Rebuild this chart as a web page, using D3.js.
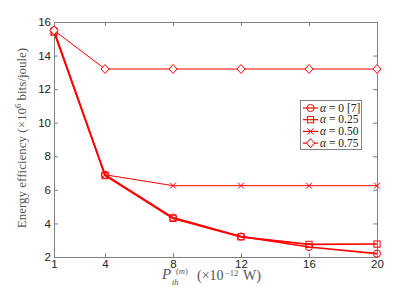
<!DOCTYPE html>
<html><head><meta charset="utf-8">
<script src="https://cdn.jsdelivr.net/npm/d3@7"></script>
<style>body{margin:0;background:#fff}svg{display:block}</style>
</head><body><svg id="c" width="415" height="290"></svg>
<script>
const xValues = [1, 4, 8, 12, 16, 20];
const alpha0 = [15.5, 6.9, 4.35, 3.22, 2.6, 2.2];
const alpha025 = [15.4, 6.85, 4.3, 3.2, 2.75, 2.77];
const alpha050 = [15.4, 6.9, 6.25, 6.25, 6.25, 6.25];
const alpha075 = [15.5, 13.2, 13.2, 13.2, 13.2, 13.2];
const xTicks = [1, 4, 8, 12, 16, 20];
const yTicks = [2, 4, 6, 8, 10, 12, 14, 16];
const seriesNames = ["α = 0 [7]", "α = 0.25", "α = 0.50", "α = 0.75"];

const series = [
  {name: seriesNames[0], vals: alpha0, marker: "circle", w: 1.6},
  {name: seriesNames[1], vals: alpha025, marker: "square", w: 1.6},
  {name: seriesNames[2], vals: alpha050, marker: "x", w: 1},
  {name: seriesNames[3], vals: alpha075, marker: "diamond", w: 1}
];

const svg = d3.select("#c");
const L = 54, R = 377, T = 22, B = 257;
const x = d3.scaleLinear().domain([1, 20]).range([L, R]);
const y = d3.scaleLinear().domain([2, 16]).range([B, T]);
const red = "#ff0000";
const axisCol = "#808080";
const serif = "Liberation Serif, serif";

const ax = svg.append("g").attr("transform", `translate(0,${B})`)
  .call(d3.axisBottom(x).tickValues(xTicks).tickSize(-4).tickPadding(3));
const axT = svg.append("g").attr("transform", `translate(0,${T})`)
  .call(d3.axisTop(x).tickValues(xTicks).tickSize(-4).tickFormat(""));
const ay = svg.append("g").attr("transform", `translate(${L},0)`)
  .call(d3.axisLeft(y).tickValues(yTicks).tickSize(-4).tickPadding(3));
const ayR = svg.append("g").attr("transform", `translate(${R},0)`)
  .call(d3.axisRight(y).tickValues(yTicks).tickSize(-4).tickFormat(""));
[ax, axT, ay, ayR].forEach(g => {
  g.select(".domain").attr("stroke", axisCol);
  g.selectAll(".tick line").attr("stroke", axisCol);
  g.selectAll("text").attr("fill", "#222").style("font-family", "Liberation Sans, Arial, sans-serif").style("font-size", "11.5px");
});

function marker(g, type, cx, cy) {
  const s = 3.6;
  if (type === "circle") g.append("circle").attr("cx", cx).attr("cy", cy).attr("r", s).attr("fill", "none").attr("stroke", red).attr("stroke-width", 1);
  else if (type === "square") g.append("rect").attr("x", cx - s + 0.5).attr("y", cy - s + 0.5).attr("width", 2 * s - 1).attr("height", 2 * s - 1).attr("fill", "none").attr("stroke", red).attr("stroke-width", 1);
  else if (type === "x") g.append("path").attr("d", `M${cx-3},${cy-3}L${cx+3},${cy+3}M${cx-3},${cy+3}L${cx+3},${cy-3}`).attr("stroke", red).attr("stroke-width", 1);
  else if (type === "diamond") g.append("path").attr("d", `M${cx},${cy-4.5}L${cx+4},${cy}L${cx},${cy+4.5}L${cx-4},${cy}Z`).attr("fill", "#fff").attr("stroke", red).attr("stroke-width", 1);
}

const line = d3.line().x((d, i) => x(xValues[i])).y(d => y(d));
series.forEach(s => {
  svg.append("path").attr("d", line(s.vals)).attr("fill", "none").attr("stroke", red).attr("stroke-width", s.w);
});
series.forEach(s => {
  const g = svg.append("g");
  s.vals.forEach((v, i) => marker(g, s.marker, x(xValues[i]), y(v)));
});

// legend
const lg = svg.append("g");
lg.append("rect").attr("x", 300.5).attr("y", 100.5).attr("width", 61).attr("height", 49).attr("fill", "#fff").attr("stroke", axisCol);
series.forEach((s, i) => {
  const yy = 108 + i * 11.7;
  lg.append("line").attr("x1", 303).attr("x2", 318).attr("y1", yy).attr("y2", yy).attr("stroke", red).attr("stroke-width", 1.2);
  marker(lg, s.marker, 310.5, yy);
  const t = lg.append("text").attr("x", 320).attr("y", yy + 3.5).style("font-family", serif).style("font-size", "11.5px").attr("fill", "#222");
  const parts = s.name.split(" = ");
  t.append("tspan").style("font-style", "italic").text("α");
  t.append("tspan").text(" = " + parts[1]);
});

// y label
const yl = svg.append("text").attr("transform", "translate(26,138) rotate(-90)").attr("text-anchor", "middle")
  .style("font-family", serif).style("font-size", "13px").attr("fill", "#555");
yl.append("tspan").text("Energy efficiency (×10");
yl.append("tspan").attr("dy", -5).style("font-size", "8.5px").text("6");
yl.append("tspan").attr("dy", 5).text(" bits/joule)");

// x label (separate pieces placed explicitly)
const xg = svg.append("g").style("font-family", serif).attr("fill", "#555");
xg.append("text").attr("x", 162).attr("y", 279).style("font-size", "15px").style("font-style", "italic").text("P");
const sup = xg.append("text").attr("x", 176).attr("y", 274).style("font-size", "8.5px");
sup.append("tspan").text("(");
sup.append("tspan").style("font-style", "italic").text("m");
sup.append("tspan").text(")");
xg.append("text").attr("x", 172).attr("y", 285).style("font-size", "8.5px").style("font-style", "italic").text("th");
xg.append("text").attr("x", 197).attr("y", 280).style("font-size", "14px").text("(×10");
xg.append("text").attr("x", 225).attr("y", 276).style("font-size", "8.5px").text("−12");
xg.append("text").attr("x", 243).attr("y", 280).style("font-size", "14px").text("W)");
</script></body></html>
